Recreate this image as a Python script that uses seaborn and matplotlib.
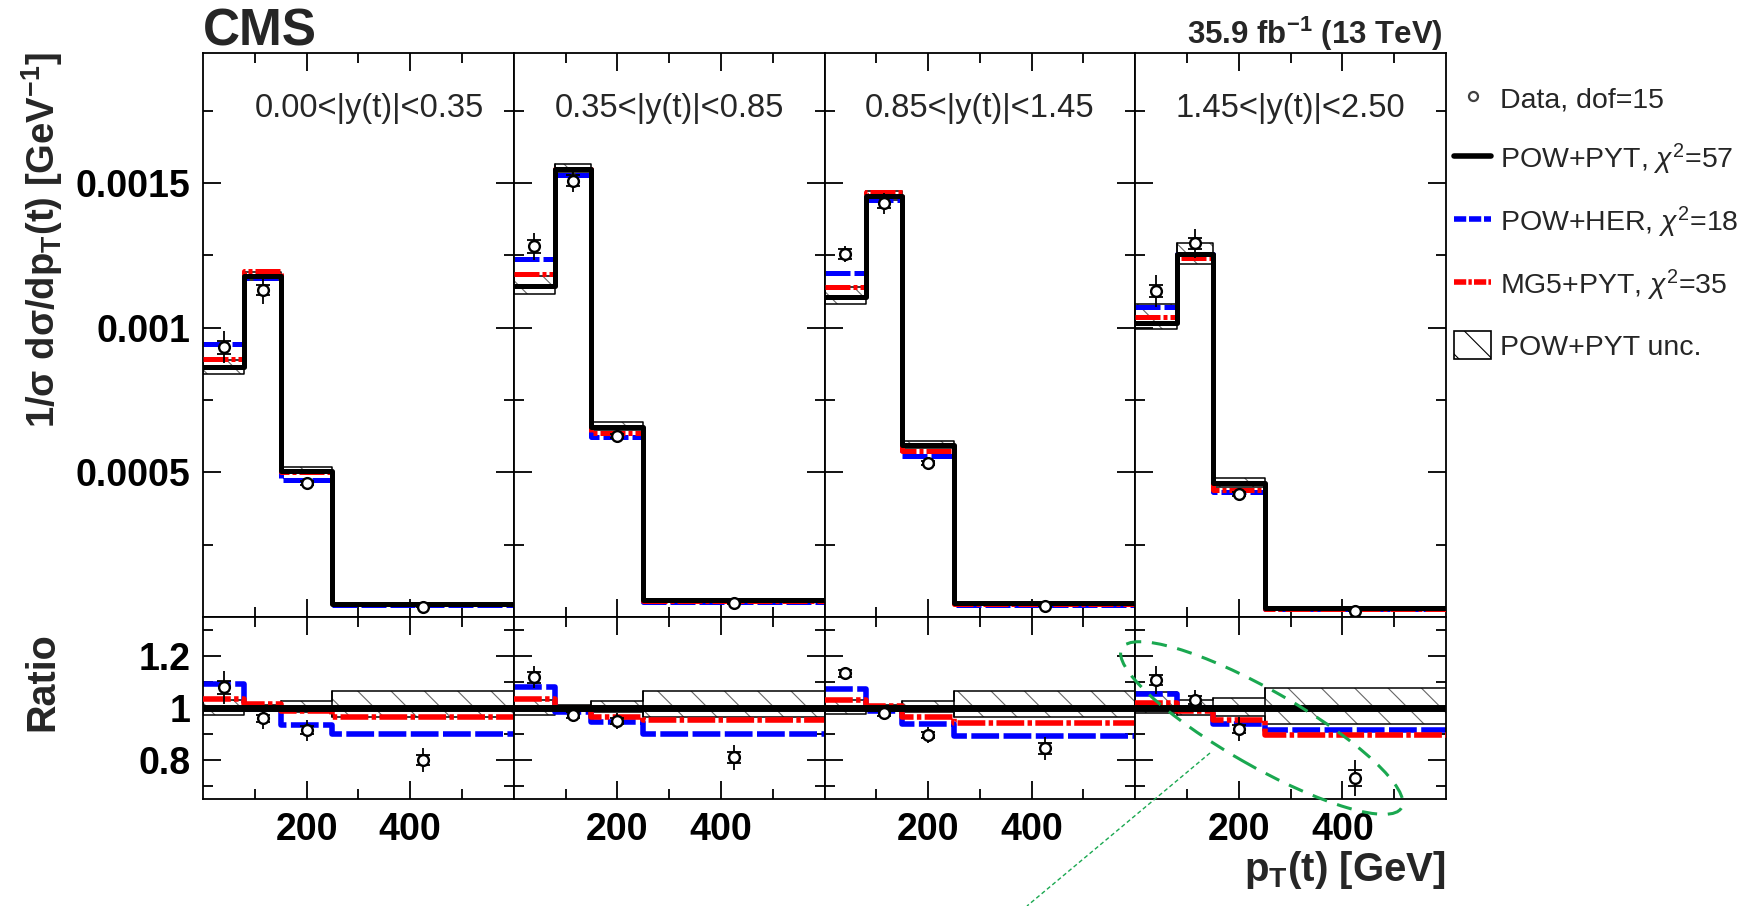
import numpy as np
import pandas as pd
import matplotlib
matplotlib.use("Agg")
import matplotlib.pyplot as plt
import seaborn as sns
from matplotlib.lines import Line2D
from matplotlib.patches import Patch, Ellipse
from matplotlib.ticker import FixedLocator, FixedFormatter

# ---------------------------------------------------------------- data
pt_edges = [0, 80, 150, 250, 600]
pt_centers = [40, 115, 200, 425]
y_bins = ["0.00<|y(t)|<0.35", "0.35<|y(t)|<0.85",
          "0.85<|y(t)|<1.45", "1.45<|y(t)|<2.50"]

# POW+PYT normalised cross section [GeV^-1], one list per |y(t)| bin
powpyt_y1 = [0.000863, 0.001178, 0.000506, 0.000045]
powpyt_y2 = [0.001146, 0.001550, 0.000658, 0.000058]
powpyt_y3 = [0.001107, 0.001457, 0.000594, 0.000047]
powpyt_y4 = [0.001017, 0.001255, 0.000462, 0.000030]

# ratios to POW+PYT
data_ratio_y1 = [1.080, 0.960, 0.915, 0.800]
data_ratio_y2 = [1.118, 0.973, 0.951, 0.810]
data_ratio_y3 = [1.133, 0.982, 0.896, 0.845]
data_ratio_y4 = [1.108, 1.030, 0.920, 0.730]

data_tot_y1 = [0.064, 0.040, 0.040, 0.045]
data_tot_y2 = [0.042, 0.025, 0.030, 0.047]
data_tot_y3 = [0.025, 0.025, 0.030, 0.045]
data_tot_y4 = [0.055, 0.040, 0.045, 0.070]

data_stat_y1 = [0.025, 0.015, 0.015, 0.020]
data_stat_y2 = [0.020, 0.012, 0.012, 0.020]
data_stat_y3 = [0.015, 0.012, 0.012, 0.020]
data_stat_y4 = [0.020, 0.015, 0.015, 0.030]

her_ratio_y1 = [1.092, 0.995, 0.935, 0.900]
her_ratio_y2 = [1.080, 0.986, 0.947, 0.900]
her_ratio_y3 = [1.074, 0.990, 0.940, 0.893]
her_ratio_y4 = [1.053, 1.000, 0.937, 0.915]

mg5_ratio_y1 = [1.035, 1.015, 0.990, 0.964]
mg5_ratio_y2 = [1.036, 1.000, 0.967, 0.954]
mg5_ratio_y3 = [1.030, 1.008, 0.967, 0.941]
mg5_ratio_y4 = [1.020, 0.990, 0.954, 0.896]

unc_lo_y1 = [0.975, 0.990, 0.985, 0.965]
unc_lo_y2 = [0.975, 0.990, 0.985, 0.967]
unc_lo_y3 = [0.978, 0.990, 0.985, 0.967]
unc_lo_y4 = [0.980, 0.973, 0.970, 0.940]
unc_hi_y1 = [1.030, 1.012, 1.027, 1.067]
unc_hi_y2 = [1.030, 1.010, 1.027, 1.067]
unc_hi_y3 = [1.030, 1.012, 1.027, 1.067]
unc_hi_y4 = [1.063, 1.030, 1.040, 1.078]

legend_labels = ["Data, dof=15",
                 r"POW+PYT, $\chi^{2}$=57",
                 r"POW+HER, $\chi^{2}$=18",
                 r"MG5+PYT, $\chi^{2}$=35",
                 "POW+PYT unc."]

powpyt = [powpyt_y1, powpyt_y2, powpyt_y3, powpyt_y4]
data_ratio = [data_ratio_y1, data_ratio_y2, data_ratio_y3, data_ratio_y4]
data_tot = [data_tot_y1, data_tot_y2, data_tot_y3, data_tot_y4]
data_stat = [data_stat_y1, data_stat_y2, data_stat_y3, data_stat_y4]
her_ratio = [her_ratio_y1, her_ratio_y2, her_ratio_y3, her_ratio_y4]
mg5_ratio = [mg5_ratio_y1, mg5_ratio_y2, mg5_ratio_y3, mg5_ratio_y4]
unc_lo = [unc_lo_y1, unc_lo_y2, unc_lo_y3, unc_lo_y4]
unc_hi = [unc_hi_y1, unc_hi_y2, unc_hi_y3, unc_hi_y4]

# ---------------------------------------------------------------- style
sns.set_theme(style="ticks")
plt.rcParams["font.family"] = ["Liberation Sans", "DejaVu Sans"]
plt.rcParams["mathtext.fontset"] = "custom"
plt.rcParams["mathtext.rm"] = "Liberation Sans"
plt.rcParams["mathtext.bf"] = "Liberation Sans:bold"
plt.rcParams["mathtext.it"] = "Liberation Sans:italic"
plt.rcParams["hatch.linewidth"] = 0.8
plt.rcParams["axes.edgecolor"] = "black"
plt.rcParams["axes.linewidth"] = 1.3

BLUE = "#0000ff"
RED = "#ff0000"
HATCH = "\\"
STYLES = {
    "her": dict(color=BLUE, linestyle=(0, (5, 0.8)), zorder=2),
    "mg5": dict(color=RED, linestyle=(0, (5, 0.6, 0.8, 0.6)), zorder=3),
    "pow": dict(color="black", linestyle="-", zorder=4),
}

W, H = 1747, 906
fig = plt.figure(figsize=(W / 100, H / 100), dpi=100)


def fx(px):
    return px / W


def fy(py):
    return 1 - py / H


def step_line(ax, vals, lw, **kw):
    df = pd.DataFrame({"pt": pt_edges, "v": list(vals) + [vals[-1]]})
    sns.lineplot(data=df, x="pt", y="v", ax=ax, drawstyle="steps-post",
                 estimator=None, errorbar=None, sort=False, legend=False,
                 linewidth=lw, **kw)


def band(ax, lo, hi):
    lo_e = list(lo) + [lo[-1]]
    hi_e = list(hi) + [hi[-1]]
    ax.fill_between(pt_edges, lo_e, hi_e, step="post", facecolor="none",
                    edgecolor="0.4", hatch=HATCH, linewidth=0, zorder=1)
    ax.step(pt_edges, lo_e, where="post", color="black", lw=1.1, zorder=1)
    ax.step(pt_edges, hi_e, where="post", color="black", lw=1.1, zorder=1)
    for i in range(4):
        ax.plot([pt_edges[i]] * 2, [lo[i], hi[i]], color="black", lw=1.1, zorder=1)


def data_points(ax, vals, tot, stat):
    ax.errorbar(pt_centers, vals, yerr=tot, fmt="none", ecolor="black",
                elinewidth=1.3, capsize=0, zorder=5)
    ax.errorbar(pt_centers, vals, yerr=stat, fmt="none", ecolor="black",
                elinewidth=1.3, capsize=5, capthick=1.3, zorder=5)
    sns.scatterplot(x=pt_centers, y=vals, ax=ax, marker="o", s=60,
                    facecolor="white", edgecolor="black", linewidth=1.7,
                    zorder=6, legend=False)


def style_axes(ax, show_y, ratio):
    ax.set_xlim(0, 600)
    ax.xaxis.set_major_locator(FixedLocator([200, 400]))
    ax.xaxis.set_minor_locator(FixedLocator([100, 300, 500]))
    if ratio:
        ax.set_ylim(0.65, 1.35)
        ax.yaxis.set_major_locator(FixedLocator([0.8, 1.0, 1.2]))
        ax.yaxis.set_major_formatter(FixedFormatter(["0.8", "1", "1.2"]))
        ax.yaxis.set_minor_locator(FixedLocator([0.7, 0.9, 1.1, 1.3]))
    else:
        ax.set_ylim(0, 0.00195)
        ax.yaxis.set_major_locator(FixedLocator([0.0005, 0.001, 0.0015]))
        ax.yaxis.set_major_formatter(FixedFormatter(["0.0005", "0.001", "0.0015"]))
        ax.yaxis.set_minor_locator(FixedLocator([0.00025, 0.00075, 0.00125, 0.00175]))
    ax.tick_params(which="both", direction="in", top=True, right=True,
                   width=1.3, labelsize=27, colors="black")
    ax.tick_params(which="major", length=13, pad=9)
    ax.tick_params(which="minor", length=7)
    ax.tick_params(axis="y", labelleft=show_y)
    ax.tick_params(axis="x", labelbottom=ratio)
    plt.setp(ax.get_xticklabels() + ax.get_yticklabels(), fontweight="bold")
    ax.set_xlabel("")
    ax.set_ylabel("")
    for sp in ax.spines.values():
        sp.set_visible(True)
        sp.set_color("black")
        sp.set_linewidth(1.3)


left, right = 203, 1446
pw = (right - left) / 4
top, mid, bot = 53, 617, 799

for i in range(4):
    x0 = left + i * pw
    axm = fig.add_axes([fx(x0), fy(mid), pw / W, (mid - top) / H])
    axr = fig.add_axes([fx(x0), fy(bot), pw / W, (bot - mid) / H])

    p = np.array(powpyt[i])
    # main panel
    band(axm, p * np.array(unc_lo[i]), p * np.array(unc_hi[i]))
    step_line(axm, p * np.array(her_ratio[i]), 3.6, **STYLES["her"])
    step_line(axm, p * np.array(mg5_ratio[i]), 3.6, **STYLES["mg5"])
    step_line(axm, p, 3.6, **STYLES["pow"])
    data_points(axm, p * np.array(data_ratio[i]),
                p * np.array(data_tot[i]), p * np.array(data_stat[i]))
    axm.text(0.535 if i == 0 else 0.5, 0.902, y_bins[i], transform=axm.transAxes,
             ha="center", va="center", fontsize=23.5)
    style_axes(axm, i == 0, False)

    # ratio panel
    band(axr, unc_lo[i], unc_hi[i])
    step_line(axr, her_ratio[i], 4.0, **STYLES["her"])
    step_line(axr, mg5_ratio[i], 4.0, **STYLES["mg5"])
    step_line(axr, [1.0, 1.0, 1.0, 1.0], 5.0, **STYLES["pow"])
    data_points(axr, data_ratio[i], data_tot[i], data_stat[i])
    style_axes(axr, i == 0, True)

# titles and axis labels
fig.text(fx(203), fy(46), "CMS", fontsize=37, fontweight="bold",
         ha="left", va="baseline")
fig.text(fx(1443), fy(44), r"35.9 fb$^{\mathbf{-1}}$ (13 TeV)", fontsize=22.5,
         fontweight="bold", ha="right", va="baseline")
fig.text(fx(42), fy(240),
         r"1/$\mathbf{\sigma}$ d$\mathbf{\sigma}$/dp$_{\mathbf{T}}$(t) [GeV$^{\mathbf{-1}}$]",
         rotation=90, ha="center", va="center", fontsize=27.5, fontweight="bold")
fig.text(fx(42), fy(682), "Ratio", rotation=90, ha="center", va="center",
         fontsize=28.5, fontweight="bold")
fig.text(fx(1446), fy(870), r"p$_{\mathbf{T}}$(t) [GeV]", ha="right",
         va="center", fontsize=29, fontweight="bold")

# legend
handles = [
    Line2D([], [], marker="o", ls="none", mfc="white", mec="0.25", ms=6.5, mew=1.6),
    Line2D([], [], color="black", lw=4),
    Line2D([], [], color=BLUE, lw=4, linestyle=(0, (2.2, 0.5))),
    Line2D([], [], color=RED, lw=4, linestyle=(0, (2.2, 0.4, 0.6, 0.4))),
    Patch(facecolor="white", edgecolor="black", hatch=HATCH, linewidth=1.2),
]
fig.legend(handles, legend_labels, loc="upper left",
           bbox_to_anchor=(fx(1454), fy(84)), frameon=False,
           prop={"size": 20.5}, handlelength=1.3,
           handleheight=1.15, handletextpad=0.33, labelspacing=0.98,
           borderaxespad=0, borderpad=0)

# highlighted region in the last ratio panel
green = "#1aa850"
ell = Ellipse((1261.7 / 100, (H - 728) / 100), 3.22, 0.76, angle=-29.7,
              transform=fig.dpi_scale_trans, fill=False, edgecolor=green,
              linewidth=2.2, linestyle=(0, (5, 3.5)), zorder=10)
fig.add_artist(ell)
fig.add_artist(Line2D([1210 / 100, 1027 / 100], [(H - 753) / 100, 0],
                      transform=fig.dpi_scale_trans, color=green, lw=1.0,
                      linestyle=(0, (3, 2)), zorder=10))

fig.savefig("out.png", dpi=100)
